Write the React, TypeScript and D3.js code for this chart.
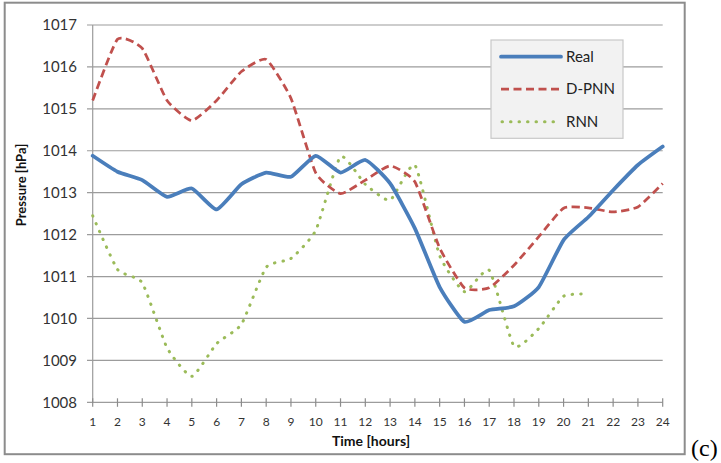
import { useEffect, useRef } from "react";
import * as d3 from "d3";

// hours 1..24
const hours = d3.range(1, 25);
const yTicks = [1008, 1009, 1010, 1011, 1012, 1013, 1014, 1015, 1016, 1017];

const real = [
  1013.88, 1013.5, 1013.3, 1012.9, 1013.1, 1012.6, 1013.2, 1013.48, 1013.38, 1013.88,
  1013.48, 1013.78, 1013.22, 1012.15, 1010.75, 1009.92, 1010.2, 1010.29, 1010.75, 1011.87,
  1012.42, 1013.06, 1013.66, 1014.1,
];
const dpnn = [
  1015.2, 1016.66, 1016.44, 1015.2, 1014.72, 1015.2, 1015.89, 1016.18, 1015.25, 1013.47,
  1012.98, 1013.3, 1013.64, 1013.26, 1011.68, 1010.73, 1010.73, 1011.27, 1011.95, 1012.63,
  1012.64, 1012.54, 1012.66, 1013.22,
];
const rnn = [
  1012.45, 1011.17, 1010.85, 1009.3, 1008.62, 1009.4, 1009.86, 1011.22, 1011.43, 1012.1,
  1013.86, 1013.2, 1012.82, 1013.66, 1011.5, 1010.64, 1011.15, 1009.34, 1009.76, 1010.53,
  1010.58,
];

const seriesList = [
  { name: "Real", values: real, color: "#4a7ebb", width: 3.75, dash: null, cap: "round" },
  { name: "D-PNN", values: dpnn, color: "#c0504d", width: 2.75, dash: "8,4.5", cap: "butt" },
  { name: "RNN", values: rnn, color: "#9bbb59", width: 3, dash: "0.5,8", cap: "round" },
];

const W = 721;
const H = 463;
const FONT = "Lato, 'Open Sans', sans-serif";

const App = () => {
  const svgRef = useRef<SVGSVGElement | null>(null);

  useEffect(() => {
    document.body.style.margin = "0";
    const svg = d3.select(svgRef.current);
    svg.selectAll("*").remove();

    const x = d3.scaleLinear().domain([1, 24]).range([92.7, 662.7]);
    const y = d3.scaleLinear().domain([1008, 1017]).range([402.3, 25]);

    svg.append("rect").attr("width", W).attr("height", H).attr("fill", "#fff");

    // outer frame
    svg
      .append("rect")
      .attr("x", 4.7)
      .attr("y", 2.7)
      .attr("width", 680)
      .attr("height", 451.5)
      .attr("fill", "none")
      .attr("stroke", "#8c8c8c")
      .attr("stroke-width", 2);

    // grid
    const gGrid = svg.append("g");
    gGrid
      .selectAll("line")
      .data(yTicks)
      .join("line")
      .attr("x1", 87)
      .attr("x2", x(24))
      .attr("y1", (d) => y(d))
      .attr("y2", (d) => y(d))
      .attr("stroke", "#9c9c9c")
      .attr("stroke-width", 1.2);

    // y axis line
    svg
      .append("line")
      .attr("x1", x(1))
      .attr("x2", x(1))
      .attr("y1", y(1017))
      .attr("y2", y(1008))
      .attr("stroke", "#9c9c9c")
      .attr("stroke-width", 1.2);

    // x ticks
    svg
      .append("g")
      .selectAll("line")
      .data(hours)
      .join("line")
      .attr("x1", (d) => x(d))
      .attr("x2", (d) => x(d))
      .attr("y1", y(1008) - 4)
      .attr("y2", y(1008) + 4.5)
      .attr("stroke", "#8c8c8c")
      .attr("stroke-width", 1.2);

    // y tick labels
    svg
      .append("g")
      .selectAll("text")
      .data(yTicks)
      .join("text")
      .attr("x", 77)
      .attr("y", (d) => y(d))
      .attr("dy", "0.35em")
      .attr("text-anchor", "end")
      .attr("font-family", FONT)
      .attr("font-size", 15)
      .attr("fill", "#333")
      .text((d) => d);

    // x tick labels
    svg
      .append("g")
      .selectAll("text")
      .data(hours)
      .join("text")
      .attr("x", (d) => x(d))
      .attr("y", 426)
      .attr("text-anchor", "middle")
      .attr("font-family", FONT)
      .attr("font-size", 12)
      .attr("fill", "#333")
      .text((d) => d);

    // axis titles
    svg
      .append("text")
      .attr("x", 371)
      .attr("y", 446)
      .attr("text-anchor", "middle")
      .attr("font-family", FONT)
      .attr("font-weight", "bold")
      .attr("font-size", 14)
      .attr("fill", "#111")
      .text("Time [hours]");
    svg
      .append("text")
      .attr("transform", "translate(26,185) rotate(-90)")
      .attr("text-anchor", "middle")
      .attr("font-family", FONT)
      .attr("font-weight", "bold")
      .attr("font-size", 13)
      .attr("fill", "#111")
      .text("Pressure [hPa]");

    // series
    const line = d3
      .line<number>()
      .x((d, i) => x(hours[i]))
      .y((d) => y(d))
      .curve(d3.curveCardinal.tension(0.5));

    const gLines = svg.append("g");
    // draw RNN first, Real last on top
    [seriesList[2], seriesList[1], seriesList[0]].forEach((s) => {
      gLines
        .append("path")
        .attr("d", line(s.values))
        .attr("fill", "none")
        .attr("stroke", s.color)
        .attr("stroke-width", s.width)
        .attr("stroke-linecap", s.cap)
        .attr("stroke-linejoin", "round")
        .attr("stroke-dasharray", s.dash);
    });

    // legend
    const gLegend = svg.append("g");
    gLegend
      .append("rect")
      .attr("x", 491)
      .attr("y", 40)
      .attr("width", 132)
      .attr("height", 98.3)
      .attr("fill", "#f2f2f2")
      .attr("stroke", "#c8c8c8")
      .attr("stroke-width", 1.2);
    const legendY = d3.scalePoint<string>().domain(seriesList.map((s) => s.name)).range([56.7, 121.7]);
    seriesList.forEach((s) => {
      const ly = legendY(s.name) as number;
      gLegend
        .append("line")
        .attr("x1", s.name === "RNN" ? 502 : 501)
        .attr("x2", 561)
        .attr("y1", ly)
        .attr("y2", ly)
        .attr("stroke", s.color)
        .attr("stroke-width", s.width)
        .attr("stroke-linecap", s.cap)
        .attr("stroke-dasharray", s.dash);
      gLegend
        .append("text")
        .attr("x", 566)
        .attr("y", ly)
        .attr("dy", "0.35em")
        .attr("font-family", FONT)
        .attr("font-size", 15)
        .attr("fill", "#222")
        .text(s.name);
    });

    // panel label
    svg
      .append("text")
      .attr("x", 691)
      .attr("y", 456)
      .attr("font-family", "'Liberation Serif', 'DejaVu Serif', serif")
      .attr("font-size", 24)
      .attr("fill", "#000")
      .text("(c)");
  }, []);

  return (
    <svg
      ref={svgRef}
      width={W}
      height={H}
      style={{ position: "absolute", left: 0, top: 0, display: "block" }}
    ></svg>
  );
};

export default App;
